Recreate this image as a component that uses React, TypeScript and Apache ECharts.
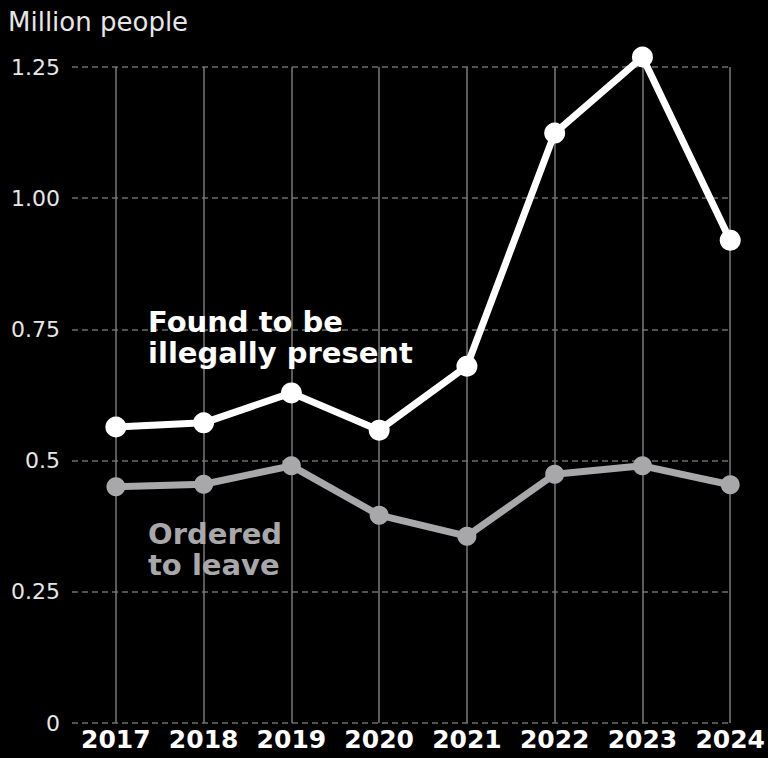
import React, { useEffect, useRef } from "react";
import * as echarts from "echarts";

const years = [2017, 2018, 2019, 2020, 2021, 2022, 2023, 2024];
const foundIllegal = [0.564, 0.572, 0.629, 0.558, 0.68, 1.124, 1.269, 0.92];
const orderedToLeave = [0.45, 0.455, 0.49, 0.396, 0.356, 0.474, 0.49, 0.454];
const yTickValues = [0, 0.25, 0.5, 0.75, 1.0, 1.25];
const yTickLabels = ["0", "0.25", "0.5", "0.75", "1.00", "1.25"];
const unitLabel = "Million people";
const foundLabel = ["Found to be", "illegally present"];
const orderedLabel = ["Ordered", "to leave"];

const FONT = "'DejaVu Sans', 'Noto Sans', sans-serif";

export default function App() {
  const ref = useRef<HTMLDivElement>(null);
  useEffect(() => {
    if (!ref.current) return;
    const chart = echarts.init(ref.current, undefined, { renderer: "svg" });
    const gridTop = 67;
    const gridBottom = 758 - 723;
    const lineTexts = (lines: string[], x: number, y0: number, step: number, fill: string) =>
      lines.map((t, i) => ({
        type: "text",
        x,
        y: y0 + i * step,
        z: 20,
        style: {
          text: t,
          fill,
          font: `bold 29px ${FONT}`,
          textVerticalAlign: "middle",
          verticalAlign: "middle",
        },
      }));
    chart.setOption({
      animation: false,
      backgroundColor: "#000000",
      grid: { left: 72, right: 37, top: gridTop, bottom: gridBottom },
      xAxis: {
        type: "value",
        min: 2016.5,
        max: 2024,
        interval: 0.5,
        axisLine: { show: false },
        axisTick: { show: false },
        splitLine: { show: false },
        axisLabel: {
          color: "#ffffff",
          fontFamily: FONT,
          fontWeight: "bold",
          fontSize: 25,
          margin: 4,
          showMinLabel: true,
          showMaxLabel: true,
          formatter: (v: number) =>
            Number.isInteger(v) && years.includes(v) ? String(v) : "",
        },
      },
      yAxis: {
        type: "value",
        min: 0,
        max: 1.25,
        interval: 0.25,
        axisLine: { show: false },
        axisTick: { show: false },
        splitLine: {
          show: true,
          lineStyle: { color: "#6e6e6e", width: 1.5, type: [6, 4] },
        },
        axisLabel: {
          color: "#e6e6e6",
          fontFamily: FONT,
          fontSize: 22,
          margin: 12,
          formatter: (v: number) => {
            const i = yTickValues.findIndex((t) => Math.abs(t - v) < 1e-6);
            return i >= 0 ? yTickLabels[i] : "";
          },
        },
      },
      graphic: [
        {
          type: "text",
          x: 8,
          y: 22,
          style: {
            text: unitLabel,
            fill: "#e6e6e6",
            font: `26px ${FONT}`,
            textVerticalAlign: "middle",
            verticalAlign: "middle",
          },
        },
        ...lineTexts(foundLabel, 148, 322, 31, "#ffffff"),
        ...lineTexts(orderedLabel, 148, 534, 31, "#a8a8ab"),
      ],
      series: [
        {
          type: "line",
          data: years.map((y, i) => [y, orderedToLeave[i]]),
          lineStyle: { color: "#a8a8ab", width: 7 },
          itemStyle: { color: "#a8a8ab" },
          symbol: "circle",
          symbolSize: 19,
          clip: false,
          z: 3,
          markLine: {
            silent: true,
            symbol: "none",
            label: { show: false },
            lineStyle: { color: "#7a7a7a", width: 1.5, type: "solid" },
            data: years.map((y) => ({ xAxis: y })),
            z: 1,
          },
        },
        {
          type: "line",
          data: years.map((y, i) => [y, foundIllegal[i]]),
          lineStyle: { color: "#ffffff", width: 7 },
          itemStyle: { color: "#ffffff" },
          symbol: "circle",
          symbolSize: 21,
          clip: false,
          z: 4,
        },
      ],
    });
    return () => chart.dispose();
  }, []);
  return (
    <div
      ref={ref}
      style={{ position: "absolute", left: 0, top: 0, width: 768, height: 758 }}
    />
  );
}
